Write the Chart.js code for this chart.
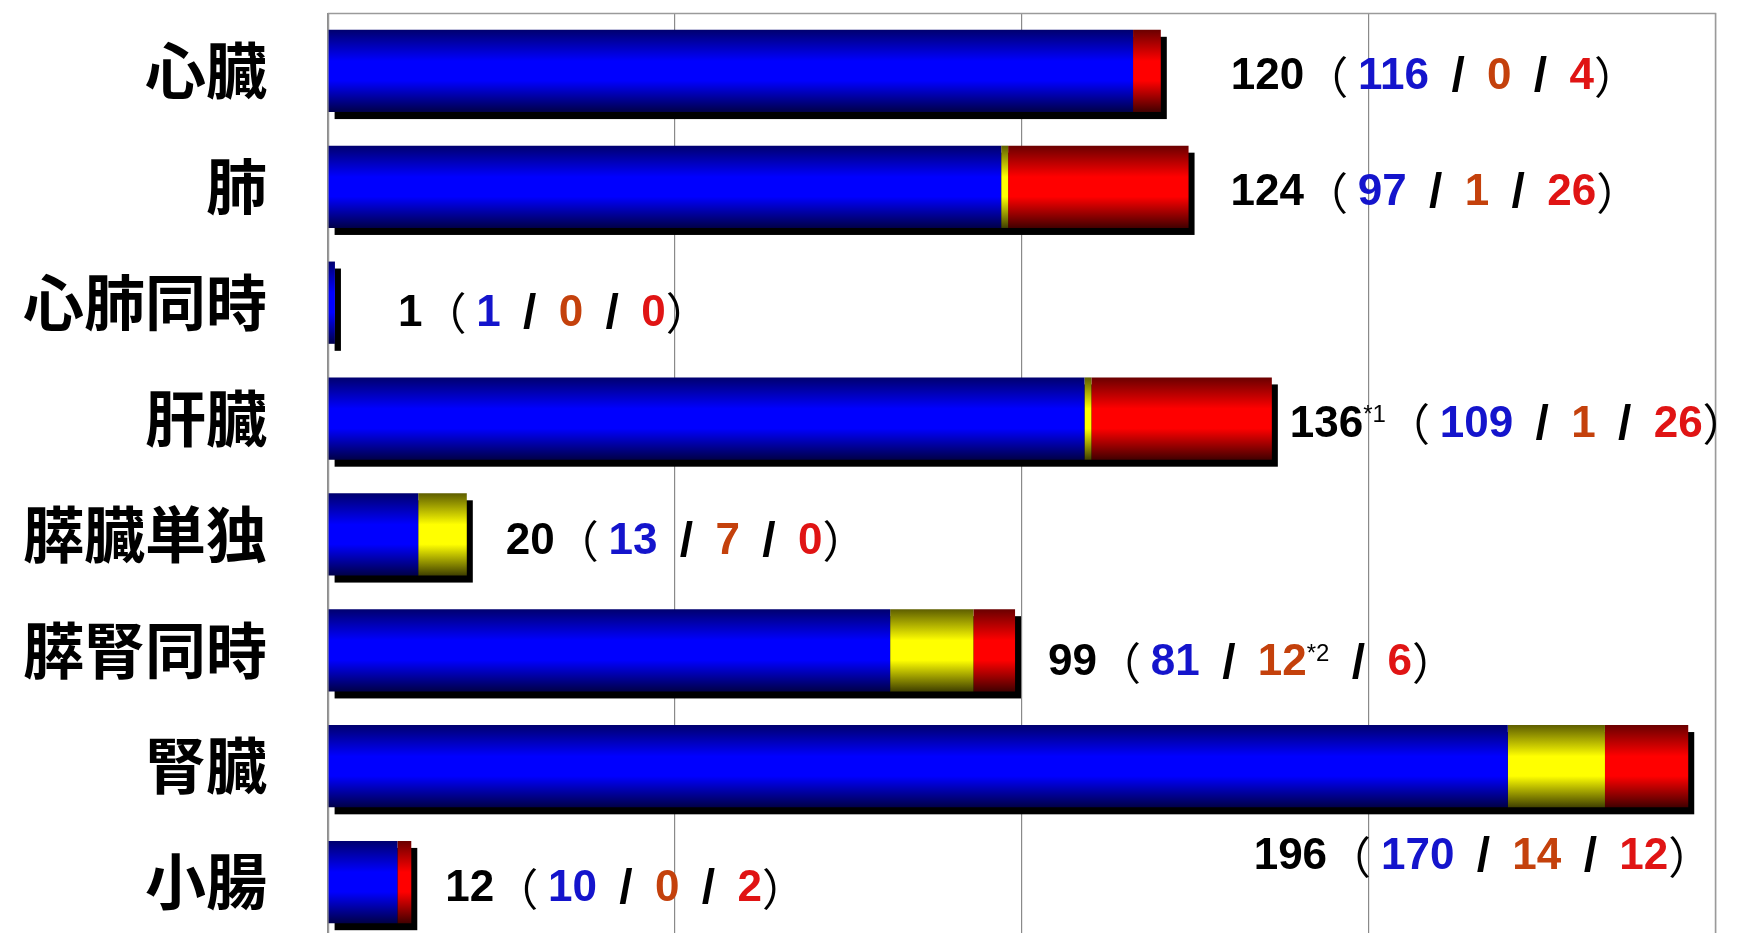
<!DOCTYPE html>
<html>
<head>
<meta charset="utf-8">
<script src="https://cdn.jsdelivr.net/npm/chart.js@4/dist/chart.umd.min.js"></script>
<style>
  html, body { margin: 0; padding: 0; background: #fff; overflow: hidden; }
  #wrap { position: relative; width: 1742px; height: 945px; }
</style>
</head>
<body>
<div id="wrap"><canvas id="c"></canvas></div>
<script>
// Organ categories and the three breakdown series per organ
const categories   = ['心臓', '肺', '心肺同時', '肝臓', '膵臓単独', '膵腎同時', '腎臓', '小腸'];
const seriesLabels = ['内訳1', '内訳2', '内訳3'];
const valuesBlue   = [116, 97, 1, 109, 13, 81, 170, 10];
const valuesYellow = [0, 1, 0, 1, 7, 12, 14, 0];
const valuesRed    = [4, 26, 0, 26, 0, 6, 12, 2];
const totals       = [120, 124, 1, 136, 20, 99, 196, 12];
const totalNotes   = ['', '', '', '*1', '', '', '', ''];
const yellowNotes  = ['', '', '', '', '', '*2', '', ''];
const xTicks       = [0, 50, 100, 150, 200];

// Label placement relative to the end of each stacked bar (pixels)
const labelDx    = [70, 42, 63, 18, 39, 33, 6, 34];
const labelDy    = [6, 6, 11, 6, 7, 13, 91, 7];
const labelAlign = ['left', 'left', 'left', 'left', 'left', 'left', 'right', 'left'];

const BAR_PCT = 0.71;

// Vertical "cylinder" shading for each bar segment
function cylinder(darkTop, bright, darkBottom) {
  return (ctx) => {
    const chart = ctx.chart;
    const y = chart.scales && chart.scales.y;
    if (!y || !chart.chartArea || ctx.dataIndex === undefined) return bright;
    const yc = y.getPixelForValue(ctx.dataIndex);
    const band = Math.abs(y.getPixelForValue(1) - y.getPixelForValue(0));
    const h = band * BAR_PCT / 2;
    if (!isFinite(yc) || !isFinite(h) || h <= 0) return bright;
    const g = chart.ctx.createLinearGradient(0, yc - h, 0, yc + h);
    g.addColorStop(0, darkTop);
    g.addColorStop(0.38, bright);
    g.addColorStop(0.62, bright);
    g.addColorStop(1, darkBottom);
    return g;
  };
}

// Black drop shadow behind each whole stacked bar
const shadowPlugin = {
  id: 'barShadow',
  beforeDatasetsDraw(chart) {
    const ctx = chart.ctx;
    const metas = chart.data.datasets.map((d, i) => chart.getDatasetMeta(i));
    ctx.save();
    ctx.fillStyle = '#000';
    categories.forEach((c, i) => {
      let x0 = Infinity, x1 = -Infinity, top = 0, bot = 0;
      metas.forEach(m => {
        const el = m.data[i];
        if (!el) return;
        const p = el.getProps(['x', 'base', 'y', 'height'], true);
        if (Math.abs(p.x - p.base) < 0.5) return;
        x0 = Math.min(x0, p.base, p.x);
        x1 = Math.max(x1, p.base, p.x);
        top = p.y - p.height / 2;
        bot = p.y + p.height / 2;
      });
      if (x1 > x0) ctx.fillRect(x0 + 6, top + 7, x1 - x0, bot - top);
    });
    ctx.restore();
  }
};

// Plot frame (top, left, right edges)
const framePlugin = {
  id: 'frame',
  beforeDatasetsDraw(chart) {
    const a = chart.chartArea, ctx = chart.ctx;
    ctx.save();
    ctx.strokeStyle = '#9a9a9a';
    ctx.lineWidth = 1.5;
    ctx.beginPath();
    ctx.moveTo(a.left + 0.5, a.bottom);
    ctx.lineTo(a.left + 0.5, a.top + 0.5);
    ctx.lineTo(a.right - 0.5, a.top + 0.5);
    ctx.lineTo(a.right - 0.5, a.bottom);
    ctx.stroke();
    ctx.restore();
  }
};

// Value labels: total ( blue / yellow / red )
const NUM_FONT = 'bold 44px "Liberation Sans", Arial, sans-serif';
const SEP_FONT = 'bold 48px "Liberation Sans", Arial, sans-serif';
const SUP_FONT = '24px "Liberation Sans", Arial, sans-serif';
const PAREN_FONT = '44px "Noto Sans CJK JP", sans-serif';
const SEP_GAP = 58;
const COL_TOTAL = '#000000', COL_BLUE = '#1414cc', COL_YELLOW = '#c4410c', COL_RED = '#e01414';

const labelPlugin = {
  id: 'valueLabels',
  afterDatasetsDraw(chart) {
    const ctx = chart.ctx;
    const xs = chart.scales.x, ys = chart.scales.y;
    ctx.save();
    categories.forEach((c, i) => {
      const end = xs.getPixelForValue(totals[i]);
      const yc = ys.getPixelForValue(i) + labelDy[i];
      const segs = [
        { t: String(totals[i]), f: NUM_FONT, c: COL_TOTAL },
        { t: totalNotes[i], f: SUP_FONT, c: COL_TOTAL, sup: true },
        { t: '（ ', f: PAREN_FONT, c: COL_TOTAL },
        { t: String(valuesBlue[i]), f: NUM_FONT, c: COL_BLUE },
        { t: '/', f: SEP_FONT, c: COL_TOTAL, gap: SEP_GAP },
        { t: String(valuesYellow[i]), f: NUM_FONT, c: COL_YELLOW },
        { t: yellowNotes[i], f: SUP_FONT, c: COL_TOTAL, sup: true },
        { t: '/', f: SEP_FONT, c: COL_TOTAL, gap: SEP_GAP },
        { t: String(valuesRed[i]), f: NUM_FONT, c: COL_RED },
        { t: '）', f: PAREN_FONT, c: COL_TOTAL }
      ];
      let w = 0;
      segs.forEach(s => {
        ctx.font = s.f;
        s.tw = s.t ? ctx.measureText(s.t).width : 0;
        s.w = s.gap || s.tw;
        w += s.w;
      });
      let x = labelAlign[i] === 'right' ? end + labelDx[i] - w + 18 : end + labelDx[i];
      segs.forEach(s => {
        if (!s.t) return;
        ctx.font = s.f;
        ctx.fillStyle = s.c;
        ctx.textAlign = 'left';
        ctx.textBaseline = 'middle';
        const dx = s.gap ? (s.gap - s.tw) / 2 : 0;
        ctx.fillText(s.t, x + dx, s.sup ? yc - 9 : yc + (s.gap ? 1 : 0));
        x += s.w;
      });
    });
    ctx.restore();
  }
};

new Chart(document.getElementById('c'), {
  type: 'bar',
  data: {
    labels: categories,
    datasets: [
      { label: seriesLabels[0], data: valuesBlue,   backgroundColor: cylinder('#00006e', '#0000ff', '#000048') },
      { label: seriesLabels[1], data: valuesYellow, backgroundColor: cylinder('#5e5e00', '#ffff00', '#404000') },
      { label: seriesLabels[2], data: valuesRed,    backgroundColor: cylinder('#6a0000', '#ff0000', '#420000') }
    ]
  },
  options: {
    indexAxis: 'y',
    responsive: true,
    maintainAspectRatio: false,
    animation: false,
    events: [],
    layout: { padding: { top: 13, right: 26, bottom: 5, left: 0 } },
    datasets: {
      bar: { barPercentage: BAR_PCT, categoryPercentage: 1, borderWidth: 0 }
    },
    plugins: { legend: { display: false }, tooltip: { enabled: false } },
    scales: {
      x: {
        stacked: true,
        min: xTicks[0],
        max: xTicks[xTicks.length - 1],
        afterBuildTicks(scale) { scale.ticks = xTicks.map(v => ({ value: v })); },
        ticks: { display: false },
        grid: { color: '#8a8a8a', lineWidth: 1.2, drawTicks: false },
        border: { display: false }
      },
      y: {
        stacked: true,
        afterFit(scale) {
          scale.width = 328;
          scale.paddingTop = 0;
          scale.paddingBottom = 0;
        },
        ticks: {
          padding: 61,
          color: '#000',
          font: { family: '"Noto Sans CJK JP", sans-serif', size: 61, weight: 'bold' }
        },
        grid: { display: false, drawTicks: false },
        border: { display: false }
      }
    }
  },
  plugins: [framePlugin, shadowPlugin, labelPlugin]
});
</script>
</body>
</html>
